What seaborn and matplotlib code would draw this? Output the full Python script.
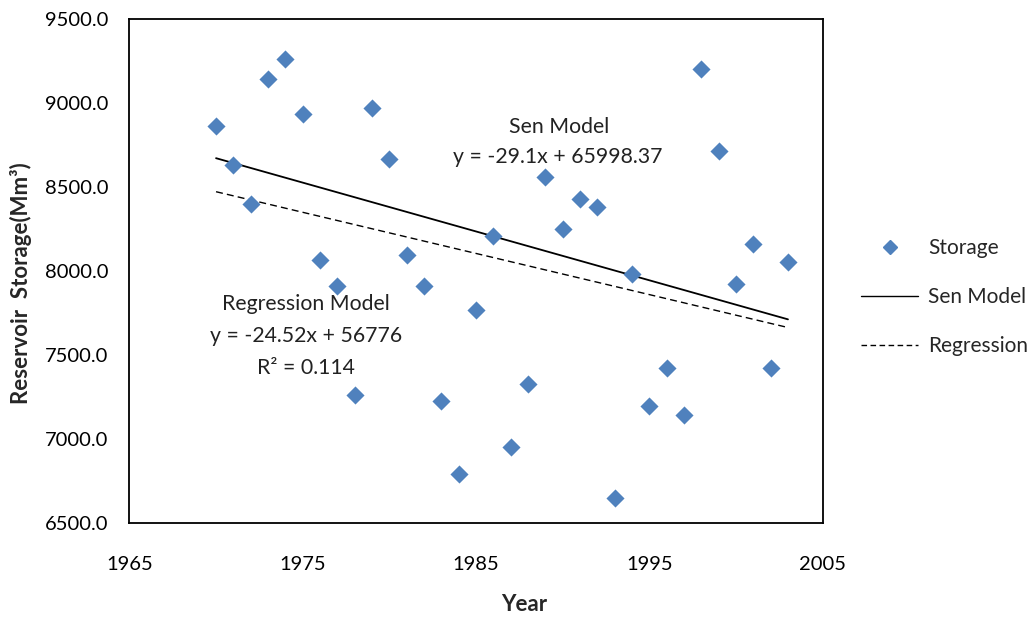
import matplotlib
matplotlib.use("Agg")
import matplotlib.pyplot as plt
from matplotlib.lines import Line2D
import pandas as pd
import seaborn as sns

# storage per year
years = list(range(1970, 2004))
storage = [8864, 8628, 8397, 9146, 9262, 8936, 8065, 7910, 7259, 8971,
           8667, 8095, 7912, 7225, 6792, 7767, 8210, 6953, 7326, 8562,
           8252, 8429, 8380, 6645, 7980, 7195, 7424, 7142, 9204, 8717,
           7921, 8163, 7424, 8052]

# trend lines as given on the chart
sen_slope, sen_icpt = -29.1, 65998.37
reg_slope, reg_icpt = -24.52, 56776
reg_r2 = 0.114

x_ticks = [1965, 1975, 1985, 1995, 2005]
y_ticks = [6500, 7000, 7500, 8000, 8500, 9000, 9500]

df = pd.DataFrame({"Year": years, "Storage": storage})
ends = [years[0], years[-1]]
lines = pd.DataFrame({
    "Year": ends,
    "Sen": [sen_slope * y + sen_icpt for y in ends],
    "Reg": [reg_slope * y + reg_icpt for y in ends],
})

sns.set_style("white")
plt.rcParams["font.family"] = ["Lato", "DejaVu Sans"]
blue = "#4F81BD"

fig = plt.figure(figsize=(10.27, 6.17), dpi=100)
ax = fig.add_axes([0.126, 0.153, 0.675, 0.816])

sns.scatterplot(data=df, x="Year", y="Storage", marker="D", s=85,
                color=blue, linewidth=0, ax=ax, zorder=3)
sns.lineplot(data=lines, x="Year", y="Sen", color="black", linewidth=1.3, ax=ax)
sns.lineplot(data=lines, x="Year", y="Reg", color="black", linewidth=1.0,
             linestyle=(0, (5, 3)), ax=ax)

ax.set_xlim(1965, 2005)
ax.set_ylim(6500, 9500)
ax.set_xticks(x_ticks)
ax.set_yticks(y_ticks)
ax.set_yticklabels([f"{v:.1f}" for v in y_ticks])
ax.tick_params(axis="both", length=0, labelsize=14.5, colors="black")
ax.tick_params(axis="y", pad=15)
ax.tick_params(axis="x", pad=24)
for s in ax.spines.values():
    s.set_color("black")
    s.set_linewidth(1.3)

ax.set_xlabel("Year", fontsize=16, fontweight="bold")
ax.set_ylabel("Reservoir  Storage(Mm³)", fontsize=16, fontweight="bold")
ax.xaxis.set_label_coords(0.57, -0.142)
ax.yaxis.set_label_coords(-0.14, 0.475)

txt = dict(fontsize=15.3, ha="center", va="center", color="#222222")
ax.text(1989.8, 8858, "Sen Model", **txt)
ax.text(1989.7, 8679, f"y = {sen_slope}x + {sen_icpt}", **txt)
ax.text(1975.2, 7803, "Regression Model", **txt)
ax.text(1975.2, 7613, f"y = {reg_slope}x + {reg_icpt}", **txt)
ax.text(1975.2, 7422, f"R² = {reg_r2}", **txt)

handles = [
    Line2D([], [], marker="D", color=blue, linestyle="none", markersize=7),
    Line2D([], [], color="black", linewidth=1.0),
    Line2D([], [], color="black", linewidth=1.0, linestyle=(0, (4, 2.5))),
]
ax.legend(handles, ["Storage", "Sen Model", "Regression"], loc="center left",
          bbox_to_anchor=(1.029, 0.448), frameon=False, fontsize=15,
          handlelength=2.7, labelspacing=1.38, handletextpad=0.5)

fig.savefig("out.png", dpi=100)
